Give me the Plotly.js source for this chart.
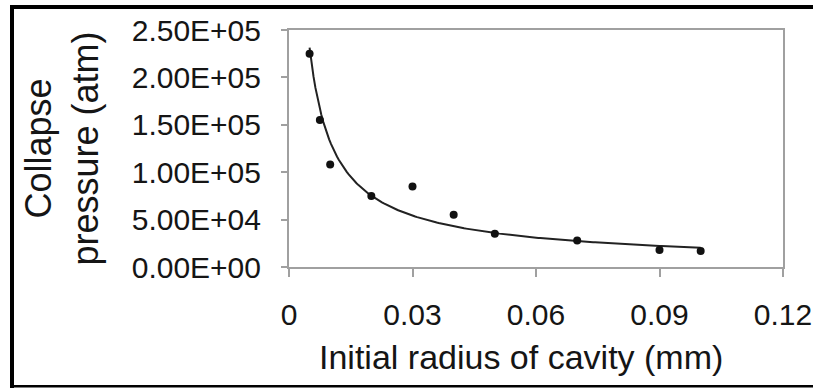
<!DOCTYPE html>
<html>
<head>
<meta charset="utf-8">
<script src="https://cdn.plot.ly/plotly-3.0.1.min.js"></script>
<style>
  html, body { margin: 0; padding: 0; background: #fff; }
  #chart { width: 813px; height: 388px; }
</style>
</head>
<body>
<div id="chart"></div>
<script>
// Initial cavity radius (mm) and the measured collapse pressure (atm)
const radiusMm = [0.005, 0.0075, 0.01, 0.02, 0.03, 0.04, 0.05, 0.07, 0.09, 0.1];
const pressureAtm = [225000, 155000, 108000, 75000, 85000, 55000, 35000, 28000, 18000, 17000];

// Axis ticks
const xTickVals = [0, 0.03, 0.06, 0.09, 0.12];
const xTickText = ['0', '0.03', '0.06', '0.09', '0.12'];
const yTickVals = [0, 50000, 100000, 150000, 200000, 250000];
const yTickText = ['0.00E+00', '5.00E+04', '1.00E+05', '1.50E+05', '2.00E+05', '2.50E+05'];

// Power-law trendline p = a * r^b, least squares on log-log data
function powerFit(xs, ys) {
  const lx = xs.map(Math.log), ly = ys.map(Math.log);
  const n = xs.length;
  const mx = lx.reduce((s, v) => s + v, 0) / n;
  const my = ly.reduce((s, v) => s + v, 0) / n;
  let sxy = 0, sxx = 0;
  for (let i = 0; i < n; i++) {
    sxy += (lx[i] - mx) * (ly[i] - my);
    sxx += (lx[i] - mx) * (lx[i] - mx);
  }
  const b = sxy / sxx;
  const a = Math.exp(my - b * mx);
  return { a, b };
}
const fit = powerFit(radiusMm, pressureAtm);
const rMin = Math.min(...radiusMm), rMax = Math.max(...radiusMm);
const fitX = [], fitY = [];
for (let i = 0; i <= 200; i++) {
  const r = rMin + (rMax - rMin) * i / 200;
  fitX.push(r);
  fitY.push(fit.a * Math.pow(r, fit.b));
}

const FONT = 'Liberation Sans, Arial, sans-serif';
const TEXT = '#151515';
const AXIS_GREY = '#a0a0a0';

// plot area in pixels: left 289, right 783, top 30, bottom 267
const L = 289, R = 783, T = 30, B = 267;
const px = v => (v - L) / (R - L);
const py = v => (B - v) / (B - T);

// black frame drawn around the figure
const frame = [
  { x0: 10, x1: 813, y0: 5, y1: 9 },
  { x0: 10, x1: 14, y0: 5, y1: 388 },
  { x0: 10, x1: 813, y0: 385, y1: 387.5 }
].map(r => ({
  type: 'rect', xref: 'paper', yref: 'paper',
  x0: px(r.x0), x1: px(r.x1), y0: py(r.y1), y1: py(r.y0),
  fillcolor: '#000', line: { width: 0 }, layer: 'above'
}));

const traces = [
  {
    x: fitX, y: fitY, type: 'scatter', mode: 'lines',
    line: { color: '#222', width: 2 }, hoverinfo: 'skip'
  },
  {
    x: radiusMm, y: pressureAtm, type: 'scatter', mode: 'markers',
    marker: { color: '#111', size: 8 }
  }
];

const layout = {
  width: 813, height: 388,
  margin: { l: L, r: 813 - R, t: T, b: 388 - B },
  paper_bgcolor: '#fff', plot_bgcolor: '#fff',
  showlegend: false,
  font: { family: FONT, color: TEXT },
  xaxis: {
    range: [0, 0.12],
    tickvals: xTickVals, ticktext: xTickText,
    tickfont: { size: 30, family: FONT, color: TEXT },
    ticks: 'outside', ticklen: 8, tickwidth: 2, tickcolor: AXIS_GREY,
    showline: true, linecolor: AXIS_GREY, linewidth: 2, mirror: true,
    showgrid: false, zeroline: false,
    ticklabelstandoff: 12,
    automargin: false
  },
  yaxis: {
    range: [0, 250000],
    tickvals: yTickVals, ticktext: yTickText,
    tickfont: { size: 30, family: FONT, color: TEXT },
    ticks: 'outside', ticklen: 6, tickwidth: 2, tickcolor: AXIS_GREY,
    showline: true, linecolor: AXIS_GREY, linewidth: 2, mirror: true,
    showgrid: false, zeroline: false,
    ticklabelstandoff: 14,
    title: { text: 'Collapse<br>pressure (atm)', font: { size: 36, family: FONT, color: TEXT }, standoff: 22 },
    automargin: false
  },
  annotations: [{
    text: 'Initial radius of cavity (mm)',
    xref: 'paper', yref: 'paper',
    x: px(521), y: py(357), xanchor: 'center', yanchor: 'middle',
    showarrow: false,
    font: { size: 34, family: FONT, color: TEXT }
  }],
  shapes: frame
};

Plotly.newPlot('chart', traces, layout, { displayModeBar: false, staticPlot: true });
</script>
</body>
</html>
